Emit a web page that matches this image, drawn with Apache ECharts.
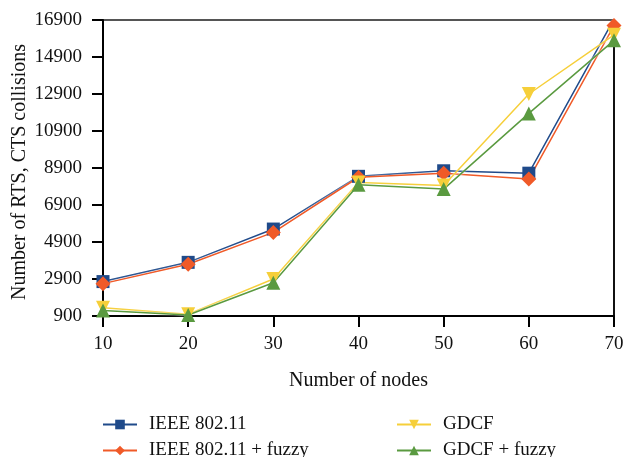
<!DOCTYPE html>
<html>
<head>
<meta charset="utf-8">
<script src="https://cdn.jsdelivr.net/npm/echarts@6/dist/echarts.min.js"></script>
<style>html,body{margin:0;padding:0;background:#fff;}#c{width:626px;height:457px;}</style>
</head>
<body>
<div id="c"></div>
<script>
const categories = ['10', '20', '30', '40', '50', '60', '70'];
const ieee = [2760, 3800, 5600, 8450, 8750, 8620, 16950];
const ieeeFuzzy = [2650, 3700, 5420, 8400, 8620, 8300, 16600];
const gdcf = [1350, 1000, 2900, 8120, 7950, 12900, 16100];
const gdcfFuzzy = [1200, 950, 2700, 8000, 7760, 11850, 15800];
const yTicks = { min: 900, max: 16900, interval: 2000 };
const seriesNames = ['IEEE 802.11', 'IEEE 802.11 + fuzzy', 'GDCF', 'GDCF + fuzzy'];
const yTitle = 'Number of RTS, CTS collisions';

const font = 'Liberation Serif';
const chart = echarts.init(document.getElementById('c'));
function mk(name, data, color, symbol, size, rotate) {
  return {
    name, type: 'line', data, symbol, symbolSize: size, symbolRotate: rotate || 0,
    itemStyle: { color },
    lineStyle: { color, width: 1.5, shadowColor: 'rgba(255,255,255,0.9)', shadowBlur: 2 },
    emphasis: { disabled: true }, animation: false
  };
}
function lg(name, left, top) {
  return {
    data: [name], left, top, orient: 'horizontal',
    itemWidth: 34, itemHeight: 12, selectedMode: false,
    textStyle: { fontFamily: font, fontSize: 19, color: '#111', padding: [0, 0, 0, 7] }
  };
}
chart.setOption({
  animation: false,
  grid: { left: 103, right: 12, top: 20, bottom: 141, containLabel: false, outerBoundsMode: 'none' },
  xAxis: {
    type: 'category', data: categories, boundaryGap: false,
    name: 'Number of nodes', nameLocation: 'middle', nameGap: 55,
    nameTextStyle: { fontFamily: font, fontSize: 20, color: '#111' },
    axisLine: { lineStyle: { color: '#000', width: 2 } },
    axisTick: { show: true, length: 11, alignWithLabel: true, lineStyle: { color: '#000', width: 2 } },
    axisLabel: { fontFamily: font, fontSize: 19, color: '#111', margin: 19 },
    splitLine: { show: false }
  },
  yAxis: {
    type: 'value', min: yTicks.min, max: yTicks.max, interval: yTicks.interval,
    axisLine: { show: true, lineStyle: { color: '#000', width: 2 } },
    axisTick: { show: true, length: 11, lineStyle: { color: '#000', width: 2 } },
    axisLabel: { fontFamily: font, fontSize: 19, color: '#111', margin: 21, formatter: v => String(v) },
    splitLine: { show: false }
  },
  graphic: [
    { type: 'line', shape: { x1: 103, y1: 20, x2: 614, y2: 20 }, style: { stroke: '#555', lineWidth: 2 }, silent: true },
    { type: 'line', shape: { x1: 614, y1: 20, x2: 614, y2: 316 }, style: { stroke: '#111', lineWidth: 2 }, silent: true },
    {
      type: 'text', x: 20, y: 172, rotation: Math.PI / 2, silent: true,
      style: { text: yTitle, font: '20px "Liberation Serif"', fill: '#111', align: 'center', verticalAlign: 'middle' }
    }
  ],
  legend: [
    lg(seriesNames[0], 97, 410),
    lg(seriesNames[1], 97, 436),
    lg(seriesNames[2], 391, 410),
    lg(seriesNames[3], 391, 436)
  ],
  series: [
    mk(seriesNames[0], ieee, '#1f4a8a', 'rect', 13),
    mk(seriesNames[1], ieeeFuzzy, '#f05a28', 'diamond', 15),
    mk(seriesNames[2], gdcf, '#f6cf3a', 'triangle', 14, 180),
    mk(seriesNames[3], gdcfFuzzy, '#5a9a40', 'triangle', 14)
  ]
});
</script>
</body>
</html>
